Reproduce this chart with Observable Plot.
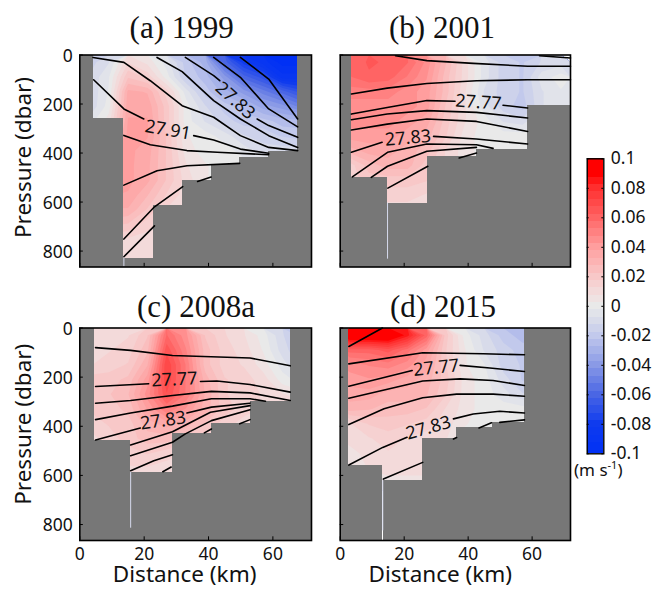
<!DOCTYPE html>
<html>
<head>
<meta charset="utf-8">
<script src="https://cdn.jsdelivr.net/npm/d3@7"></script>
<script src="https://cdn.jsdelivr.net/npm/@observablehq/plot@0.6"></script>
<style>
html,body{margin:0;padding:0;background:#fff}
#page{position:relative;width:654px;height:590px;overflow:hidden;font-family:"Noto Sans",sans-serif}
#page svg{position:absolute;background:transparent}
.ttl{position:absolute;font-family:"Liberation Serif",serif;font-size:31px;line-height:32px;color:#111;transform:translateX(-50%);white-space:nowrap}
.unit{position:absolute;font-size:17px;color:#111;white-space:nowrap;line-height:16px}
.unit sup{font-size:11px;line-height:0}
</style>
</head>
<body>
<div id="page"></div>
<script>
// ----- shared data -----
const distanceTicks = [0, 20, 40, 60];
const pressureTicks = [0, 200, 400, 600, 800];
const colorTicks = [0.1, 0.08, 0.06, 0.04, 0.02, 0, -0.02, -0.04, -0.06, -0.08, -0.1];
const colorStopValues = [-0.1, -0.08, -0.06, -0.04, -0.02, -0.0075, 0, 0.0075, 0.02, 0.04, 0.06, 0.08, 0.09, 0.1];
const colorStops = ["#0030f5", "#0f3bee", "#4a66e4", "#8a9ae6", "#c2c9ec", "#dde0ea", "#e9e9e9", "#f2dede", "#f8c8c8", "#ff9e9e", "#ff6464", "#ff2e2e", "#ff0000", "#ff0000"];
const bandWidth = 0.005;
const gridColumns = 12;          // columns span 0..72 km
const rowStep = 60;              // dbar per grid row

// ----- (a) 1999 -----
const gridA = [
 [-.015,-.008,.012,.006,-.005,-.02,-.03,-.06,-.08,-.09,-.1,-.1],
 [-.012,-.003,.022,.016,0,-.018,-.025,-.04,-.06,-.07,-.09,-.09],
 [-.012,-.002,.034,.032,.015,-.005,-.02,-.03,-.04,-.05,-.06,-.07],
 [-.012,0,.036,.036,.02,0,-.012,-.02,-.025,-.035,-.04,-.05],
 [-.005,.005,.038,.038,.02,0,-.008,-.015,-.02,-.02,-.025,-.025],
 [0,.02,.039,.038,.022,.003,0,-.005,-.012,-.015,-.018,-.02],
 [.038,.038,.039,.035,.022,.005,0,0,-.005,-.01,-.01,-.01],
 [.038,.038,.039,.034,.022,.008,.003,0,0,0,0,0],
 [.038,.038,.039,.034,.022,.01,.003,0,0,0,0,0],
 [.038,.038,.037,.028,.017,.01,.003,0,0,0,0,0],
 [.032,.032,.032,.022,.012,.01,0,0,0,0,0,0],
 [.025,.025,.022,.015,.01,.01,0,0,0,0,0,0],
 [.015,.015,.012,.01,.01,.01,0,0,0,0,0,0],
 [.012,.012,.01,.01,.01,.01,0,0,0,0,0,0]
];
const floorsA = [[0,4.2,0],[4.2,13.7,261],[13.7,23,829],[23,32,616],[32,40.9,514],[40.9,49.7,445],[49.7,58.7,418],[58.7,67.7,393],[67.7,72,0]];
const slitA = {km:13.7, from:829, to:865};
const linesA = [
 [[4.1,10],[13.7,30],[21.9,105],[31.8,207],[41.6,254],[49.9,329],[58.7,377],[67.7,390]],
 [[4.3,101],[13.7,220],[19.9,261]],
 [[35.4,329],[41.6,347],[49.9,384],[58.7,401]],
 [[13.7,328],[21.9,366],[33.3,390],[42.7,397],[58.7,407]],
 [[13.7,531],[24,472],[33.3,452],[49.7,442]],
 [[13.7,751],[23,622],[32,537]],
 [[36.6,516],[40.8,498]],
 [[13.7,823],[23.2,697]],
 [[24,10],[31.8,68],[41.6,186],[49.9,261],[58.7,329],[67.7,377]],
 [[32.8,10],[41.6,84],[43.5,105]],
 [[55.1,261],[58.7,288],[67.7,336]],
 [[41.6,10],[49.9,91],[58.7,220],[67.7,293]],
 [[49.9,10],[58.7,98],[67.7,261]]
];
const labelsA = [{km:48.3,dbar:186,text:"27.83",angle:42},{km:27.4,dbar:306,text:"27.91",angle:10}];

// ----- (b) 2001 -----
const gridB = [
 [.06,.063,.062,.058,.046,.028,.01,-.005,-.015,-.018,-.012,-.01],
 [.057,.062,.06,.052,.043,.025,.01,-.005,-.015,-.018,-.005,0],
 [.05,.05,.05,.045,.04,.025,.008,-.008,-.015,-.018,-.008,-.003],
 [.045,.045,.045,.045,.04,.022,.008,-.005,-.015,-.02,-.008,-.003],
 [.045,.045,.045,.04,.035,.02,.008,0,-.008,-.01,0,0],
 [.04,.04,.04,.035,.03,.018,.005,0,0,0,0,0],
 [.03,.035,.035,.03,.025,.012,.005,0,0,0,0,0],
 [.015,.025,.03,.03,.02,.012,.005,0,0,0,0,0],
 [.015,.02,.02,.02,.018,.01,0,0,0,0,0,0],
 [.012,.015,.015,.015,.012,.01,0,0,0,0,0,0],
 [.01,.01,.01,.01,.01,.01,0,0,0,0,0,0]
];
const floorsB = [[0,3.5,0],[3.5,14.7,499],[14.9,27.4,605],[27.4,42.6,415],[42.6,58.6,384],[58.6,72,207]];
const slitB = {km:14.8, from:605, to:833};
const linesB = [
 [[17.3,3],[27.1,23],[41.6,34],[58.6,46],[72,46]],
 [[62.3,3],[72,12]],
 [[3.5,159],[14.7,135],[27.1,116],[42.6,105],[58.6,101],[72,101]],
 [[3.5,241],[14.7,214],[27.1,186],[35.9,189]],
 [[50.9,205],[58.6,216]],
 [[3.5,264],[14.7,241],[27.1,227],[42.6,234],[58.6,257]],
 [[3.5,306],[14.7,282],[27.1,261],[42.6,271],[58.6,312]],
 [[3.5,397],[13.1,356]],
 [[29.2,332],[42.6,343],[58.6,363]],
 [[3.8,497],[14.8,397],[27.1,363],[42.6,366],[47.8,381]],
 [[9.7,499],[14.8,454],[27.1,393],[42.6,377]],
 [[14.9,543],[27.4,454]],
 [[37.2,420],[42.6,400]]
];
const labelsB = [{km:43.2,dbar:193,text:"27.77",angle:4},{km:21.2,dbar:339,text:"27.83",angle:-5}];

// ----- (c) 2008a -----
const gridC = [
 [.008,.012,.012,.022,.058,.044,.022,.013,.008,0,-.012,-.02],
 [.008,.012,.015,.026,.066,.048,.025,.015,.01,.002,-.01,-.018],
 [.012,.015,.018,.032,.072,.052,.025,.015,.012,.005,-.005,-.015],
 [.02,.02,.024,.04,.072,.052,.03,.018,.015,.01,0,-.005],
 [.02,.022,.027,.045,.067,.052,.032,.018,.015,.012,.008,.005],
 [.018,.02,.024,.038,.052,.042,.03,.02,.015,.012,.01,.01],
 [.015,.018,.02,.03,.035,.03,.022,.015,.01,.01,.01,.01],
 [.01,.015,.02,.025,.025,.02,.015,.012,.01,.01,.01,.01],
 [.01,.012,.015,.018,.015,.012,.01,.01,.01,.01,.01,.01],
 [.008,.01,.012,.012,.01,.01,.01,.01,.01,.01,.01,.01]
];
const floorsC = [[0,4.6,0],[4.6,15.7,457],[15.9,28.8,588],[28.8,40.9,431],[40.9,52.9,390],[52.9,65.4,298],[65.4,72,0]];
const slitC = {km:15.8, from:588, to:815};
const linesC = [
 [[4.9,80],[15.8,91],[28.8,112],[52.9,122],[65.4,154]],
 [[4.9,238],[21.4,227]],
 [[37.5,218],[42.6,216],[52.9,230],[65.4,261]],
 [[4.9,306],[15.8,295],[28.8,275],[40.9,258],[52.9,264],[65.4,295]],
 [[4.9,373],[15.8,346],[28.8,318],[40.9,288],[52.9,288],[57.7,298]],
 [[4.9,456],[18.8,407]],
 [[33.3,346],[40.9,322],[52.9,306]],
 [[15.8,476],[28.8,422],[40.6,343],[52.9,316]],
 [[15.8,520],[28.8,465],[32.8,431],[40.9,377],[52.9,333]],
 [[15.8,581],[23,540],[28.8,516]],
 [[25.8,585],[28.4,566]],
 [[38.7,427],[40.9,411]],
 [[49.7,390],[52.9,373]]
];
const labelsC = [{km:29.4,dbar:210,text:"27.77",angle:-3},{km:25.9,dbar:377,text:"27.83",angle:-8}];

// ----- (d) 2015 -----
const gridD = [
 [.1,.1,.1,.085,.06,.02,0,-.01,-.02,-.025,-.025,-.025],
 [.06,.06,.065,.055,.04,.018,.003,-.008,-.015,-.02,-.02,-.02],
 [.045,.048,.05,.045,.035,.018,.003,-.002,-.015,-.018,-.018,-.018],
 [.04,.042,.04,.035,.03,.02,.005,0,-.01,-.018,-.018,-.018],
 [.035,.035,.03,.03,.028,.018,.005,0,-.005,-.012,-.012,-.012],
 [.03,.028,.025,.025,.022,.012,.005,0,0,0,0,0],
 [.012,.018,.02,.018,.015,.01,.003,0,0,0,0,0],
 [.01,.012,.015,.012,.01,.008,0,0,0,0,0,0],
 [.005,.01,.012,.012,.01,.008,0,0,0,0,0,0],
 [.003,.008,.01,.01,.01,.008,0,0,0,0,0,0],
 [.003,.005,.005,.005,.005,.005,0,0,0,0,0,0]
];
const floorsD = [[0,2.7,0],[2.7,13.2,558],[13.4,25.8,622],[25.8,36.4,449],[36.4,47.5,407],[47.5,57.6,384],[57.6,72,0]];
const slitD = {km:13.3, from:622, to:826};
const linesD = [
 [[2.7,75],[13.2,0]],
 [[2.7,146],[25.8,101],[44.7,105],[57.6,109]],
 [[2.7,237],[22.5,173]],
 [[37.5,152],[46.8,163],[57.6,177]],
 [[2.7,286],[25.8,216],[37.5,207],[47.8,214],[57.6,234]],
 [[2.7,393],[13.7,329],[25.8,284],[36.4,269],[47.8,269],[57.6,278]],
 [[2.7,558],[13.3,486],[20.9,445]],
 [[35.4,370],[41.6,350],[49.9,339],[57.6,346]],
 [[13.5,615],[25.8,547]],
 [[35.4,452],[36.4,446]],
 [[43.4,407],[47.3,386]],
 [[49.9,384],[57.6,374]]
];
const labelsD = [{km:30,dbar:162,text:"27.77",angle:-6},{km:27.6,dbar:407,text:"27.83",angle:-16}];

// ----- colour scale -----
const thresholds = d3.range(41).map(i => +(-0.1025 + bandWidth * i).toFixed(4));
const colorAt = d3.scaleLinear().domain(colorStopValues).range(colorStops).clamp(true);
const bandColors = thresholds.map(t => colorAt(t + bandWidth / 2));
const colorScale = {type: "threshold", domain: thresholds.slice(1), range: bandColors};

const page = document.getElementById("page");
const FONT = {fontFamily: '"Noto Sans", sans-serif', fontSize: "17.5px", color: "#111"};
const AXIS_TITLE = 22.5;

function panel({grid, floors, slit, lines, labels, box, yLabels, xLabels, yShift, xShift}) {
  const rows = grid.length;
  const lineRows = lines.flatMap((l, i) => l.map(([km, dbar]) => ({i, km, dbar})));
  const marks = [
    Plot.contour(grid.flat(), {
      width: gridColumns, height: rows, x1: 0, x2: 72, y1: 0, y2: rows * rowStep,
      fill: Plot.identity, thresholds, stroke: "none", smooth: true
    }),
    Plot.rect(floors, {x1: d => d[0], x2: d => d[1], y1: d => d[2], y2: 865, fill: "#777777", shapeRendering: "crispEdges"}),
    Plot.ruleX([slit], {x: "km", y1: "from", y2: "to", stroke: "#d5d9ec", strokeWidth: 1}),
    Plot.line(lineRows, {x: "km", y: "dbar", z: "i", stroke: "#000", strokeWidth: 1.6}),
    Plot.text(labels, {x: "km", y: "dbar", text: "text", rotate: "angle", fontSize: 18, fill: "#111"}),
    Plot.ruleY(pressureTicks, {y: d => d, x1: 0, x2: 1.1, stroke: "#000", strokeWidth: 1}),
    Plot.ruleX(distanceTicks, {x: d => d, y1: 865, y2: 850, stroke: "#000", strokeWidth: 1}),
    Plot.frame({stroke: "#000", strokeWidth: 1.6}),
    yLabels
      ? Plot.axisY({ticks: pressureTicks, tickSize: 0, tickPadding: 7, label: null, fontSize: 17.5, dy: 1})
      : Plot.axisY({ticks: [], label: null, tickSize: 0}),
    xLabels
      ? Plot.axisX({ticks: distanceTicks, tickSize: 0, tickPadding: 7, label: null, fontSize: 17.5})
      : Plot.axisX({ticks: [], label: null, tickSize: 0})
  ];
  if (yLabels) marks.push(Plot.text(["Pressure (dbar)"], {frameAnchor: "left", textAnchor: "middle", text: d => d, rotate: -90, dx: -56, dy: yShift, fontSize: AXIS_TITLE, fill: "#111"}));
  if (xLabels) marks.push(Plot.text(["Distance (km)"], {frameAnchor: "bottom", text: d => d, dx: xShift, dy: 41, fontSize: AXIS_TITLE, fill: "#111"}));
  const svg = Plot.plot({
    width: box.w, height: box.h,
    marginLeft: box.l, marginRight: box.w - box.r, marginTop: box.t, marginBottom: box.h - box.b,
    x: {domain: [0, 72]},
    y: {domain: [0, 865], reverse: true},
    color: colorScale,
    style: FONT,
    marks
  });
  svg.style.left = box.x + "px";
  svg.style.top = box.y + "px";
  page.appendChild(svg);
}

panel({grid: gridA, floors: floorsA, slit: slitA, lines: linesA, labels: labelsA, yLabels: true, xLabels: false, yShift: -3.5,
  box: {x: 0, y: 0, w: 327, h: 296, l: 79.3, r: 311, t: 54.5, b: 266.5}});
panel({grid: gridB, floors: floorsB, slit: slitB, lines: linesB, labels: labelsB, yLabels: false, xLabels: false,
  box: {x: 327, y: 0, w: 245, h: 296, l: 12.7, r: 243, t: 54.5, b: 266.5}});
panel({grid: gridC, floors: floorsC, slit: slitC, lines: linesC, labels: labelsC, yLabels: true, xLabels: true, yShift: -10, xShift: -11,
  box: {x: 0, y: 296, w: 327, h: 294, l: 79.3, r: 311, t: 31.5, b: 244}});
panel({grid: gridD, floors: floorsD, slit: slitD, lines: linesD, labels: labelsD, yLabels: false, xLabels: true, xShift: -15,
  box: {x: 327, y: 296, w: 245, h: 294, l: 12.7, r: 243, t: 31.5, b: 244}});

// ----- colour bar -----
const bands = thresholds.map(t => ({
  lo: Math.max(t, -0.1), hi: Math.min(t + bandWidth, 0.1), value: t + bandWidth / 2
}));
const bar = Plot.plot({
  width: 82, height: 325,
  marginLeft: 14.7, marginRight: 50.7, marginTop: 18.3, marginBottom: 11.7,
  x: {domain: [0, 1], axis: null},
  y: {domain: [-0.1, 0.1]},
  color: colorScale,
  style: FONT,
  marks: [
    Plot.rect(bands, {x1: 0, x2: 1, y1: "lo", y2: "hi", fill: "value", shapeRendering: "crispEdges"}),
    Plot.ruleY(colorTicks, {y: d => d, x1: 0, x2: 0.12, stroke: "#000", strokeWidth: 1}),
    Plot.ruleY(colorTicks, {y: d => d, x1: 0.88, x2: 1, stroke: "#000", strokeWidth: 1}),
    Plot.frame({stroke: "#000", strokeWidth: 1.4}),
    Plot.axisY({anchor: "right", ticks: colorTicks, tickSize: 0, tickPadding: 7, label: null, tickFormat: d => String(d), fontSize: 17.5})
  ]
});
bar.style.left = "572px";
bar.style.top = "140px";
page.appendChild(bar);

// ----- titles and unit -----
const titles = [["(a) 1999", 181.7, 12], ["(b) 2001", 442, 12], ["(c) 2008a", 196, 291], ["(d) 2015", 443, 291]];
for (const [text, cx, top] of titles) {
  const d = document.createElement("div");
  d.className = "ttl";
  d.textContent = text;
  d.style.left = cx + "px";
  d.style.top = top + "px";
  page.appendChild(d);
}
const unit = document.createElement("div");
unit.className = "unit";
unit.style.left = "574px";
unit.style.top = "462px";
unit.innerHTML = "(m s<sup>-1</sup>)";
page.appendChild(unit);
</script>
</body>
</html>
